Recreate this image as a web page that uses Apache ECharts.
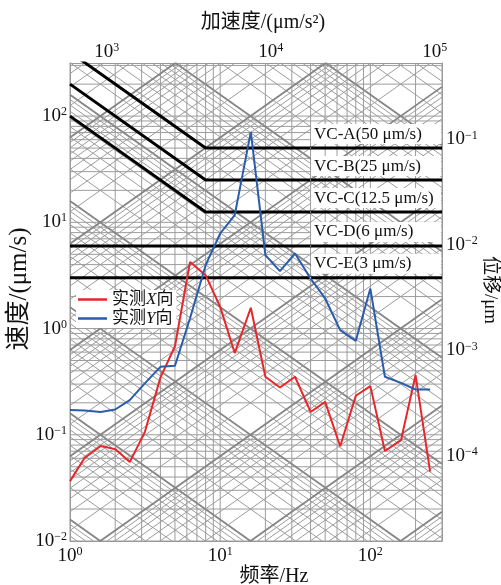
<!DOCTYPE html>
<html><head><meta charset="utf-8">
<script src="https://cdn.jsdelivr.net/npm/echarts@6/dist/echarts.min.js"></script>
<style>html,body{margin:0;padding:0;background:#fff}#c{width:501px;height:585px}</style>
</head><body><div id="c"></div>
<script>
// ---- data ----
const freqHz = [1,1.25,1.6,2,2.5,3.15,4,5,6.3,8,10,12.5,16,20,25,31.5,40,50,63,80,100,125,160,200,250];
const velX = [0.0366,0.0604,0.0784,0.0733,0.0553,0.106,0.345,0.682,4.24,3.18,1.60,0.588,1.57,0.352,0.279,0.352,0.164,0.204,0.078,0.233,0.287,0.0703,0.0891,0.365,0.0449];
const velY = [0.171,0.169,0.164,0.173,0.212,0.305,0.436,0.446,1.25,3.95,7.85,11.7,71,4.91,3.47,5.09,2.96,1.92,0.966,0.766,2.38,0.352,0.308,0.267,0.267];
const seriesNames = ['实测X向','实测Y向'];

const vcNames = ['VC-A(50 μm/s)','VC-B(25 μm/s)','VC-C(12.5 μm/s)','VC-D(6 μm/s)','VC-E(3 μm/s)'];
const vcVelocity = [50,25,12.5,6,3];
const vcVelocityAt1Hz = [400,200,100,6,3];
const vcKneeHz = [8,8,8,1,1];
const vcLabelHz = 40;

const bottomTicks = [1,10,100];
const leftTicks = [0.01,0.1,1,10,100];
const topTicks = [1e3,1e4,1e5];
const rightTicks = [1e-4,1e-3,1e-2,1e-1];

const freqRange = [1,300];
const velRange = [0.01,316.2];
const topRange = [597,110800];
const rightRange = [1.56e-5,0.530];

const gridMantissa = [1,2,3,4,5,6,7,8,9];
const freqDecades = [0,1,2];
const velDecades = [-2,-1,0,1,2];
const accDecades = [-2,-1,0,1,2,3,4,5];
const dispDecades = [-6,-5,-4,-3,-2,-1,0,1];

// ---- build ----
const SERIF = '"Liberation Serif", "Noto Sans CJK SC", serif';
const TXT = '#111';
const fMin = freqRange[0], fMax = freqRange[1], vMin = velRange[0], vMax = velRange[1];
const TWO_PI = 2*Math.PI;
const series = [];
function gridLine(pts, major){
  series.push({type:'line', data:pts, symbol:'none', silent:true, animation:false, z:1,
    lineStyle:{color: major ? '#858585' : '#9c9c9c', width: major ? 1.8 : 1}});
}
freqDecades.forEach(n => gridMantissa.forEach(m => {
  const f = m*Math.pow(10,n);
  if (f >= fMin && f <= fMax) gridLine([[f,vMin],[f,vMax]], false);
}));
velDecades.forEach(n => gridMantissa.forEach(m => {
  const v = m*Math.pow(10,n);
  if (v >= vMin && v <= vMax) gridLine([[fMin,v],[fMax,v]], false);
}));
accDecades.forEach(n => gridMantissa.forEach(m => {
  const a = m*Math.pow(10,n);
  const f1 = Math.max(fMin, a/(TWO_PI*vMax)), f2 = Math.min(fMax, a/(TWO_PI*vMin));
  if (f1 < f2) gridLine([[f1,a/(TWO_PI*f1)],[f2,a/(TWO_PI*f2)]], m===1);
}));
dispDecades.forEach(n => gridMantissa.forEach(m => {
  const d = m*Math.pow(10,n);
  const f1 = Math.max(fMin, vMin/(TWO_PI*d)), f2 = Math.min(fMax, vMax/(TWO_PI*d));
  if (f1 < f2) gridLine([[f1,TWO_PI*f1*d],[f2,TWO_PI*f2*d]], m===1);
}));

vcNames.forEach((nm,i) => {
  const pts = [[fMin, vcVelocityAt1Hz[i]]];
  if (vcKneeHz[i] > fMin) pts.push([vcKneeHz[i], vcVelocity[i]]);
  pts.push([fMax, vcVelocity[i]]);
  series.push({type:'line', data:pts, symbol:'none', silent:true, animation:false, z:3,
    lineStyle:{color:'#000', width:3}});
});
series.push({type:'scatter', silent:true, animation:false, z:6, symbol:'rect', symbolSize:[1,1],
  itemStyle:{color:'#ffffff', opacity:1},
  data: vcVelocity.map(v => [vcLabelHz, v]),
  label:{show:true, position:'right', distance:0, offset:[0,-14], opacity:1,
    formatter: p => vcNames[p.dataIndex],
    fontFamily:SERIF, fontSize:17, color:'#111', backgroundColor:'#fff',
    padding:[2,4,1,3], width:123}
});
const lineColors = ['#e8262a','#2a5cac'];
[velX, velY].forEach((vals,i) => {
  series.push({type:'line', name:seriesNames[i], data:freqHz.map((f,j)=>[f, vals[j]]),
    symbol:'none', animation:false, z:5, color:lineColors[i],
    lineStyle:{color:lineColors[i], width:2}});
});

function supLabel(v){
  const e = Math.round(Math.log10(v));
  return '{b|10}{s|' + (e < 0 ? '\u2212' + (-e) : e) + '}';
}
const labRich = {
  b:{fontFamily:SERIF, fontSize:19, lineHeight:20, color:TXT},
  s:{fontFamily:SERIF, fontSize:12, lineHeight:12, color:TXT, verticalAlign:'top'}
};
const frame = {show:true, lineStyle:{color:'#999', width:1}};
function axisCommon(extra){
  return Object.assign({type:'log', logBase:10, axisLine:frame, axisTick:{show:false},
    splitLine:{show:false}, minorTick:{show:false}, minorSplitLine:{show:false},
    nameMoveOverlap:false}, extra);
}

const option = {
  backgroundColor:'#fff',
  animation:false,
  grid:{left:70, right:59, top:63, bottom:44, containLabel:false, outerBoundsMode:'none'},
  legend:{data:seriesNames, left:76, top:290, orient:'vertical', backgroundColor:'#fff',
    padding:[1,3,1,2], icon:'rect', itemWidth:29, itemHeight:2.5, itemGap:2, selectedMode:false,
    formatter: n => '{a|' + n.slice(0,2) + '}{i|' + n.slice(2,3) + '}{a|' + n.slice(3) + '}',
    textStyle:{rich:{a:{fontFamily:SERIF, fontSize:17, lineHeight:16, color:TXT},
      i:{fontFamily:'"Liberation Serif", serif', fontStyle:'italic', fontSize:17, lineHeight:16, color:TXT}}}
  },
  xAxis:[
    axisCommon({position:'bottom', min:fMin, max:fMax,
      name:'频率/Hz', nameLocation:'middle', nameGap:26,
      nameTextStyle:{fontFamily:SERIF, fontSize:20, color:TXT, padding:[0,0,0,36]},
      axisLabel:{customValues:bottomTicks, formatter:supLabel, rich:labRich, margin:5}}),
    axisCommon({position:'top', min:topRange[0], max:topRange[1],
      name:'加速度/(μm/s²)', nameLocation:'middle', nameGap:30,
      nameTextStyle:{fontFamily:SERIF, fontSize:20, color:TXT, padding:[0,0,0,14]},
      axisLabel:{customValues:topTicks, formatter:supLabel, rich:labRich, margin:1}})
  ],
  yAxis:[
    axisCommon({position:'left', min:vMin, max:vMax,
      name:'速度/(μm/s)', nameLocation:'middle', nameGap:38,
      nameTextStyle:{fontFamily:SERIF, fontSize:25, color:TXT, padding:[0,0,0,26]},
      axisLabel:{customValues:leftTicks, formatter:supLabel, rich:labRich, margin:3}}),
    axisCommon({position:'right', min:rightRange[0], max:rightRange[1],
      name:'位移/μm', nameLocation:'middle', nameGap:38, nameRotate:-90,
      nameTextStyle:{fontFamily:SERIF, fontSize:19, color:TXT, padding:[0,24,0,0]},
      axisLabel:{customValues:rightTicks, formatter:supLabel, rich:labRich, margin:4}})
  ],
  series: series
};
const chart = echarts.init(document.getElementById('c'), null, {renderer:'canvas'});
chart.setOption(option);
</script></body></html>
